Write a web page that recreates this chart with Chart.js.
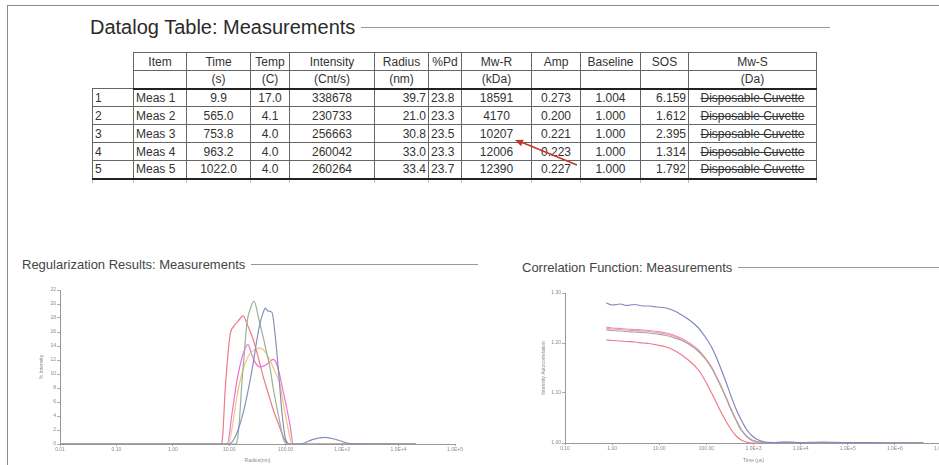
<!DOCTYPE html>
<html>
<head>
<meta charset="utf-8">
<script src="https://cdn.jsdelivr.net/npm/chart.js@4.4.0/dist/chart.umd.min.js"></script>
<style>
  body { margin:0; width:939px; height:465px; overflow:hidden; background:#fff; position:relative;
         font-family:"Liberation Sans", Arial, sans-serif; color:#333; }
  .frame { position:absolute; left:7px; top:5px; width:950px; height:480px;
           border-left:1px solid #8a8a8a; border-top:1px solid #8a8a8a; }
  .title { position:absolute; display:flex; align-items:center; white-space:nowrap; }
  .title .rule { flex:1; height:1px; background:#999; margin-left:6px; }
  #tableTitle { left:90px; top:16px; width:740px; font-size:20px; color:#2a2a2a; }
  #regTitle { left:22px; top:257px; width:456px; font-size:13px; color:#444; }
  #corrTitle { left:522px; top:260px; width:430px; font-size:13px; color:#444; }
  table { position:absolute; left:92px; top:52px; border-collapse:collapse; table-layout:fixed;
          font-size:12px; color:#333; }
  td { border:1px solid #666; height:18px; padding:0 2px; box-sizing:border-box; line-height:16px;
       text-align:center; white-space:nowrap; overflow:hidden; }
  td.idx { text-align:left; padding-left:2px; }
  td.item { text-align:left; }
  td.right { text-align:right; }
  td.left { text-align:left; }
  tr.head td.idx { border:none; }
  tr.head2 td { border-bottom:2px solid #222; }
  tr.last td { border-bottom:2px solid #222; }
  tr.stub td { height:4px; border-top:none; border-bottom:none; border-left:1px solid #bbb; border-right:1px solid #bbb; }
  td.strike { text-decoration:line-through; }
  canvas { position:absolute; }
  #regChart { left:38px; top:275px; }
  #corrChart { left:540px; top:278px; }
</style>
</head>
<body>
<div class="frame"></div>
<div class="title" id="tableTitle"><span>Datalog Table: Measurements</span><div class="rule"></div></div>
<table id="datalog"></table>
<svg style="position:absolute;left:0;top:0" width="939" height="465">
  <line x1="577" y1="165" x2="521" y2="142" stroke="#c0392b" stroke-width="1.5"/>
  <polygon points="515,140 523.7,139.8 521.1,146.2" fill="#c0392b"/>
</svg>
<div class="title" id="regTitle"><span>Regularization Results: Measurements</span><div class="rule"></div></div>
<div class="title" id="corrTitle"><span>Correlation Function: Measurements</span><div class="rule"></div></div>
<canvas id="regChart" width="437" height="190"></canvas>
<canvas id="corrChart" width="420" height="187"></canvas>

<script>
// table data
const headerTop = ['Item', 'Time', 'Temp', 'Intensity', 'Radius', '%Pd', 'Mw-R', 'Amp', 'Baseline', 'SOS', 'Mw-S'];
const headerUnits = ['', '(s)', '(C)', '(Cnt/s)', '(nm)', '', '(kDa)', '', '', '', '(Da)'];
const rowIndex = ['1', '2', '3', '4', '5'];
const items = ['Meas 1', 'Meas 2', 'Meas 3', 'Meas 4', 'Meas 5'];
const times = ['9.9', '565.0', '753.8', '963.2', '1022.0'];
const temps = ['17.0', '4.1', '4.0', '4.0', '4.0'];
const intensities = ['338678', '230733', '256663', '260042', '260264'];
const radii = ['39.7', '21.0', '30.8', '33.0', '33.4'];
const pds = ['23.8', '23.3', '23.5', '23.3', '23.7'];
const mwR = ['18591', '4170', '10207', '12006', '12390'];
const amps = ['0.273', '0.200', '0.221', '0.223', '0.227'];
const baselines = ['1.004', '1.000', '1.000', '1.000', '1.000'];
const sos = ['6.159', '1.612', '2.395', '1.314', '1.792'];
const mwS = ['Disposable Cuvette', 'Disposable Cuvette', 'Disposable Cuvette', 'Disposable Cuvette', 'Disposable Cuvette'];

// regularization (size distribution) data
const regXTicks = [0.01, 0.1, 1, 10, 100, 1e3, 1e4, 1e5];
const regXLabels = ['0.01', '0.10', '1.00', '10.00', '100.00', '1.0E+3', '1.0E+4', '1.0E+5'];
const meas1RegRadius = [0.01, 9.6, 12.7, 17.6, 22, 26.6, 31, 35.2, 40, 43.3, 48.7, 57, 67, 77, 86, 101, 120, 180, 290, 500, 815, 1390, 20000];
const meas1RegIntensity = [0, 0, 1, 4.4, 8, 11.6, 15, 17.3, 18.8, 19.4, 19.0, 18.8, 14.5, 9, 4.4, 0.5, 0, 0, 0.6, 0.95, 0.6, 0.05, 0];
const meas2RegRadius = [0.01, 7, 7.5, 8.5, 10.3, 12, 14.5, 17.6, 21, 26.6, 33, 40, 50, 60, 75, 90, 110, 20000];
const meas2RegIntensity = [0, 0, 0.5, 8, 15.5, 16.8, 17.6, 18.3, 17.0, 14.9, 12.2, 9.6, 7.0, 4.9, 2.8, 1.1, 0, 0];
const meas3RegRadius = [0.01, 13, 13.7, 15, 16.7, 18.5, 20.5, 24, 27.5, 33, 39.8, 46, 52.4, 60, 69.4, 80, 89, 104, 20000];
const meas3RegIntensity = [0, 0, 0.3, 3, 8.7, 13, 17.2, 19.5, 20.4, 18, 15.3, 13, 11, 8, 5.3, 2.8, 1, 0, 0];
const meas4RegRadius = [0.01, 9.5, 11.6, 13.5, 15.5, 19, 23.5, 29, 35, 43, 52.4, 63, 78, 92, 109, 130, 20000];
const meas4RegIntensity = [0, 0, 3, 6.5, 9, 11.5, 13, 13.5, 13.7, 13.2, 12, 10.5, 8.7, 5.5, 2.4, 0, 0];
const meas5RegRadius = [0.01, 9.2, 11.2, 13.7, 17, 20, 21.5, 24, 28, 35.2, 42, 50, 60, 66, 75, 89, 105, 120, 135, 20000];
const meas5RegIntensity = [0, 0, 4.4, 9.1, 12.5, 14.0, 14.2, 13.2, 11.8, 11.0, 11.2, 11.6, 12.1, 11.8, 10.5, 7.7, 5, 2.6, 0, 0];

// correlation function data
const corrXTicks = [0.1, 1, 10, 100, 1e3, 1e4, 1e5, 1e6, 1e7];
const corrXLabels = ['0.10', '1.00', '10.00', '100.00', '1.0E+3', '1.0E+4', '1.0E+5', '1.0E+6', '1.0E+7'];
const corrYTicks = [1.0, 1.1, 1.2, 1.3];
const corrYLabels = ['1.00', '1.10', '1.20', '1.30'];
const corrTime = [0.75, 1, 1.5, 2, 3, 4.5, 6, 9, 14, 20, 30, 45, 68, 95, 129, 165, 209, 270, 339, 430, 549, 700, 890, 1200, 1750, 2500, 5000, 1e4, 3e4, 1e5, 3e5, 1e6, 4e6];
const meas1Corr = [1.280, 1.276, 1.278, 1.275, 1.277, 1.274, 1.274, 1.272, 1.270, 1.265, 1.256, 1.245, 1.230, 1.212, 1.192, 1.170, 1.146, 1.118, 1.092, 1.067, 1.046, 1.028, 1.016, 1.007, 1.002, 1.001, 1.002, 1.001, 1.002, 1.001, 1.001, 1.000, 1.000];
const meas2Corr = [1.206, 1.205, 1.204, 1.203, 1.202, 1.200, 1.199, 1.196, 1.192, 1.186, 1.176, 1.163, 1.146, 1.124, 1.100, 1.080, 1.060, 1.041, 1.026, 1.014, 1.006, 1.002, 1.000, 1.000, 1.000, 1.000, 1.001, 1.000, 1.001, 1.000, 1.000, 1.000, 1.000];
const meas3Corr = [1.226, 1.225, 1.224, 1.223, 1.222, 1.221, 1.220, 1.218, 1.215, 1.211, 1.205, 1.196, 1.183, 1.168, 1.150, 1.131, 1.111, 1.088, 1.066, 1.046, 1.027, 1.015, 1.007, 1.003, 1.001, 1.001, 1.002, 1.001, 1.001, 1.001, 1.000, 1.000, 1.000];
const meas4Corr = [1.229, 1.228, 1.227, 1.226, 1.225, 1.224, 1.223, 1.221, 1.218, 1.214, 1.207, 1.198, 1.185, 1.169, 1.151, 1.131, 1.111, 1.087, 1.065, 1.045, 1.026, 1.014, 1.006, 1.002, 1.001, 1.000, 1.001, 1.001, 1.000, 1.001, 1.000, 1.000, 1.000];
const meas5Corr = [1.232, 1.230, 1.229, 1.228, 1.227, 1.226, 1.225, 1.223, 1.220, 1.216, 1.209, 1.199, 1.186, 1.170, 1.152, 1.132, 1.112, 1.088, 1.066, 1.045, 1.026, 1.014, 1.006, 1.002, 1.000, 1.000, 1.001, 1.001, 1.000, 1.001, 1.000, 1.000, 1.000];

const measColors = ['#8890b8', '#f07888', '#9cb09c', '#ecc878', '#f070d8'];
const corrColors = ['#7f88c0', '#f07a8c', '#a8a8a0', '#f2a0b8', '#f58ab0'];

// build the table
function buildTable() {
    const table = document.getElementById('datalog');
    const widths = [41, 53, 64, 39, 85, 54, 33, 70, 49, 60, 48, 128];
    let html = '<colgroup>' + widths.map(w => '<col style="width:' + w + 'px">').join('') + '</colgroup>';
    html += '<tr class="head"><td class="idx"></td>' + headerTop.map(h => '<td>' + h + '</td>').join('') + '</tr>';
    html += '<tr class="head head2"><td class="idx"></td>' + headerUnits.map(h => '<td>' + h + '</td>').join('') + '</tr>';
    for (let i = 0; i < rowIndex.length; i++) {
        const cls = i === rowIndex.length - 1 ? ' class="last"' : '';
        html += '<tr' + cls + '>' +
            '<td class="idx">' + rowIndex[i] + '</td>' +
            '<td class="item">' + items[i] + '</td>' +
            '<td>' + times[i] + '</td>' +
            '<td>' + temps[i] + '</td>' +
            '<td>' + intensities[i] + '</td>' +
            '<td class="right">' + radii[i] + '</td>' +
            '<td class="left">' + pds[i] + '</td>' +
            '<td>' + mwR[i] + '</td>' +
            '<td>' + amps[i] + '</td>' +
            '<td>' + baselines[i] + '</td>' +
            '<td class="right">' + sos[i] + '</td>' +
            '<td class="strike">' + mwS[i] + '</td>' +
            '</tr>';
    }
    html += '<tr class="stub">' + widths.map(() => '<td></td>').join('') + '</tr>';
    table.innerHTML = html;
}

function lineDataset(label, xs, ys, color) {
    return {
        label: label,
        data: xs.map((x, i) => ({ x: x, y: ys[i] })),
        borderColor: color,
        backgroundColor: color,
        borderWidth: 1.2,
        pointRadius: 0,
        showLine: true,
        fill: false,
        cubicInterpolationMode: 'monotone'
    };
}

function chartOptions(o) {
    const tickFont = { size: 5 };
    return {
        responsive: false,
        animation: false,
        events: [],
        layout: { padding: o.padding },
        plugins: { legend: { display: false }, tooltip: { enabled: false } },
        scales: {
            x: {
                type: 'logarithmic',
                min: o.xTicks[0],
                max: o.xMax,
                afterBuildTicks: s => { s.ticks = o.xTicks.map(v => ({ value: v })); },
                afterFit: s => { s.height = o.xHeight; },
                ticks: { autoSkip: false, maxRotation: 0, font: tickFont, color: '#8a8a8a', padding: 1,
                         callback: (v, i) => o.xLabels[i] },
                grid: { drawOnChartArea: false, tickLength: 2, color: '#aaa' },
                border: { color: '#999' },
                title: { display: true, text: o.xTitle, font: tickFont, color: '#8a8a8a', padding: 1 }
            },
            y: {
                min: o.yMin,
                max: o.yMax,
                afterBuildTicks: o.yTicks ? (s => { s.ticks = o.yTicks.map(v => ({ value: v })); }) : undefined,
                afterFit: s => { s.width = o.yWidth; },
                ticks: { stepSize: o.yStep, font: tickFont, color: '#8a8a8a', padding: 1,
                         callback: o.yLabels ? ((v, i) => o.yLabels[i]) : (v => v) },
                grid: { drawOnChartArea: false, tickLength: 3, color: '#aaa' },
                border: { color: '#999' },
                title: { display: true, text: o.yTitle, font: tickFont, color: '#8a8a8a', padding: 1 }
            }
        }
    };
}

function showRegChart() {
    const ctx = document.getElementById('regChart');
    new Chart(ctx, {
        type: 'scatter',
        data: {
            datasets: [
                lineDataset('Meas 1', meas1RegRadius, meas1RegIntensity, measColors[0]),
                lineDataset('Meas 3', meas3RegRadius, meas3RegIntensity, measColors[2]),
                lineDataset('Meas 4', meas4RegRadius, meas4RegIntensity, measColors[3]),
                lineDataset('Meas 5', meas5RegRadius, meas5RegIntensity, measColors[4]),
                lineDataset('Meas 2', meas2RegRadius, meas2RegIntensity, measColors[1])
            ]
        },
        options: chartOptions({
            padding: { top: 15, right: 20, left: 0, bottom: 0 },
            xTicks: regXTicks, xLabels: regXLabels, xMax: 1e5, xHeight: 21, xTitle: 'Radius(nm)',
            yMin: 0, yMax: 22, yStep: 2, yWidth: 22, yTitle: '% Intensity'
        })
    });
}

function showCorrChart() {
    const ctx = document.getElementById('corrChart');
    new Chart(ctx, {
        type: 'scatter',
        data: {
            datasets: [
                lineDataset('Meas 1', corrTime, meas1Corr, corrColors[0]),
                lineDataset('Meas 3', corrTime, meas3Corr, corrColors[2]),
                lineDataset('Meas 4', corrTime, meas4Corr, corrColors[3]),
                lineDataset('Meas 5', corrTime, meas5Corr, corrColors[4]),
                lineDataset('Meas 2', corrTime, meas2Corr, corrColors[1])
            ]
        },
        options: chartOptions({
            padding: { top: 15, right: 18, left: 0, bottom: 0 },
            xTicks: corrXTicks, xLabels: corrXLabels, xMax: 1e7, xHeight: 22, xTitle: 'Time (µs)',
            yMin: 1.0, yMax: 1.3, yTicks: corrYTicks, yLabels: corrYLabels, yWidth: 25,
            yTitle: 'Intensity Autocorrelation'
        })
    });
}

window.onload = function () {
    buildTable();
    showRegChart();
    showCorrChart();
};
</script>
</body>
</html>
